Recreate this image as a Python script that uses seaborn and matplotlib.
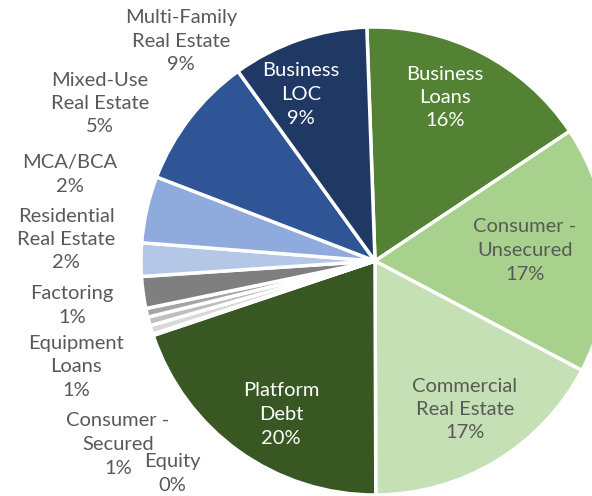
import matplotlib
matplotlib.use("Agg")
import matplotlib.pyplot as plt
import seaborn as sns

# ---- data ----
categories = ["Business Loans", "Consumer - Unsecured", "Commercial Real Estate",
              "Platform Debt", "Equity", "Consumer - Secured", "Equipment Loans",
              "Factoring", "Residential Real Estate", "MCA/BCA",
              "Mixed-Use Real Estate", "Multi-Family Real Estate", "Business LOC"]
display_names = ["Business\nLoans", "Consumer -\nUnsecured", "Commercial\nReal Estate",
                 "Platform\nDebt", "Equity", "Consumer -\nSecured", "Equipment\nLoans",
                 "Factoring", "Residential\nReal Estate", "MCA/BCA",
                 "Mixed-Use\nReal Estate", "Multi-Family\nReal Estate", "Business\nLOC"]
shares = [16.2, 17.1, 17.2, 19.9, 0.1, 0.6, 0.6, 0.6, 2.2, 2.3, 4.6, 9.2, 9.4]

# ---- styles ----
colors = ["#548235", "#a9d18e", "#c5e0b4", "#385723", "#ededed", "#d9d9d9",
          "#bfbfbf", "#a5a5a5", "#7f7f7f", "#b4c7e7", "#8faadc", "#2f5597", "#203864"]
text_colors = ["white", "#595959", "#595959", "white", "#595959", "#595959",
               "#595959", "#595959", "#595959", "#595959", "#595959", "#595959", "white"]
# label anchor points in pixels (x from left, y from top) - layout only
label_px = [(445, 96), (525, 249), (465, 408), (281, 413), (172, 472), (118, 443),
            (76, 365), (72, 304), (66, 238), (70, 173), (100, 102), (181, 40), (301, 93)]
LINE_H = 23.5

W, H = 592, 496
sns.set_theme(style="white")
plt.rcParams["font.family"] = ["Lato", "DejaVu Sans"]

fig = plt.figure(figsize=(W / 100, H / 100), dpi=100)
ax = fig.add_axes([0, 0, 1, 1])

ax.pie(shares, colors=colors, startangle=92, counterclock=False,
       center=(375, H - 261), radius=234,
       wedgeprops=dict(edgecolor="white", linewidth=2.5), frame=True)
ax.set_xlim(0, W)
ax.set_ylim(0, H)
ax.set_aspect("equal")
ax.axis("off")

for name, val, tc, (px, py) in zip(display_names, shares, text_colors, label_px):
    lines = name.split("\n") + [f"{round(val)}%"]
    n = len(lines)
    for i, line in enumerate(lines):
        y = py + (i - (n - 1) / 2) * LINE_H
        ax.text(px, H - y, line, ha="center", va="center_baseline",
                color=tc, fontsize=14.5)

fig.savefig("out.png", dpi=100)
